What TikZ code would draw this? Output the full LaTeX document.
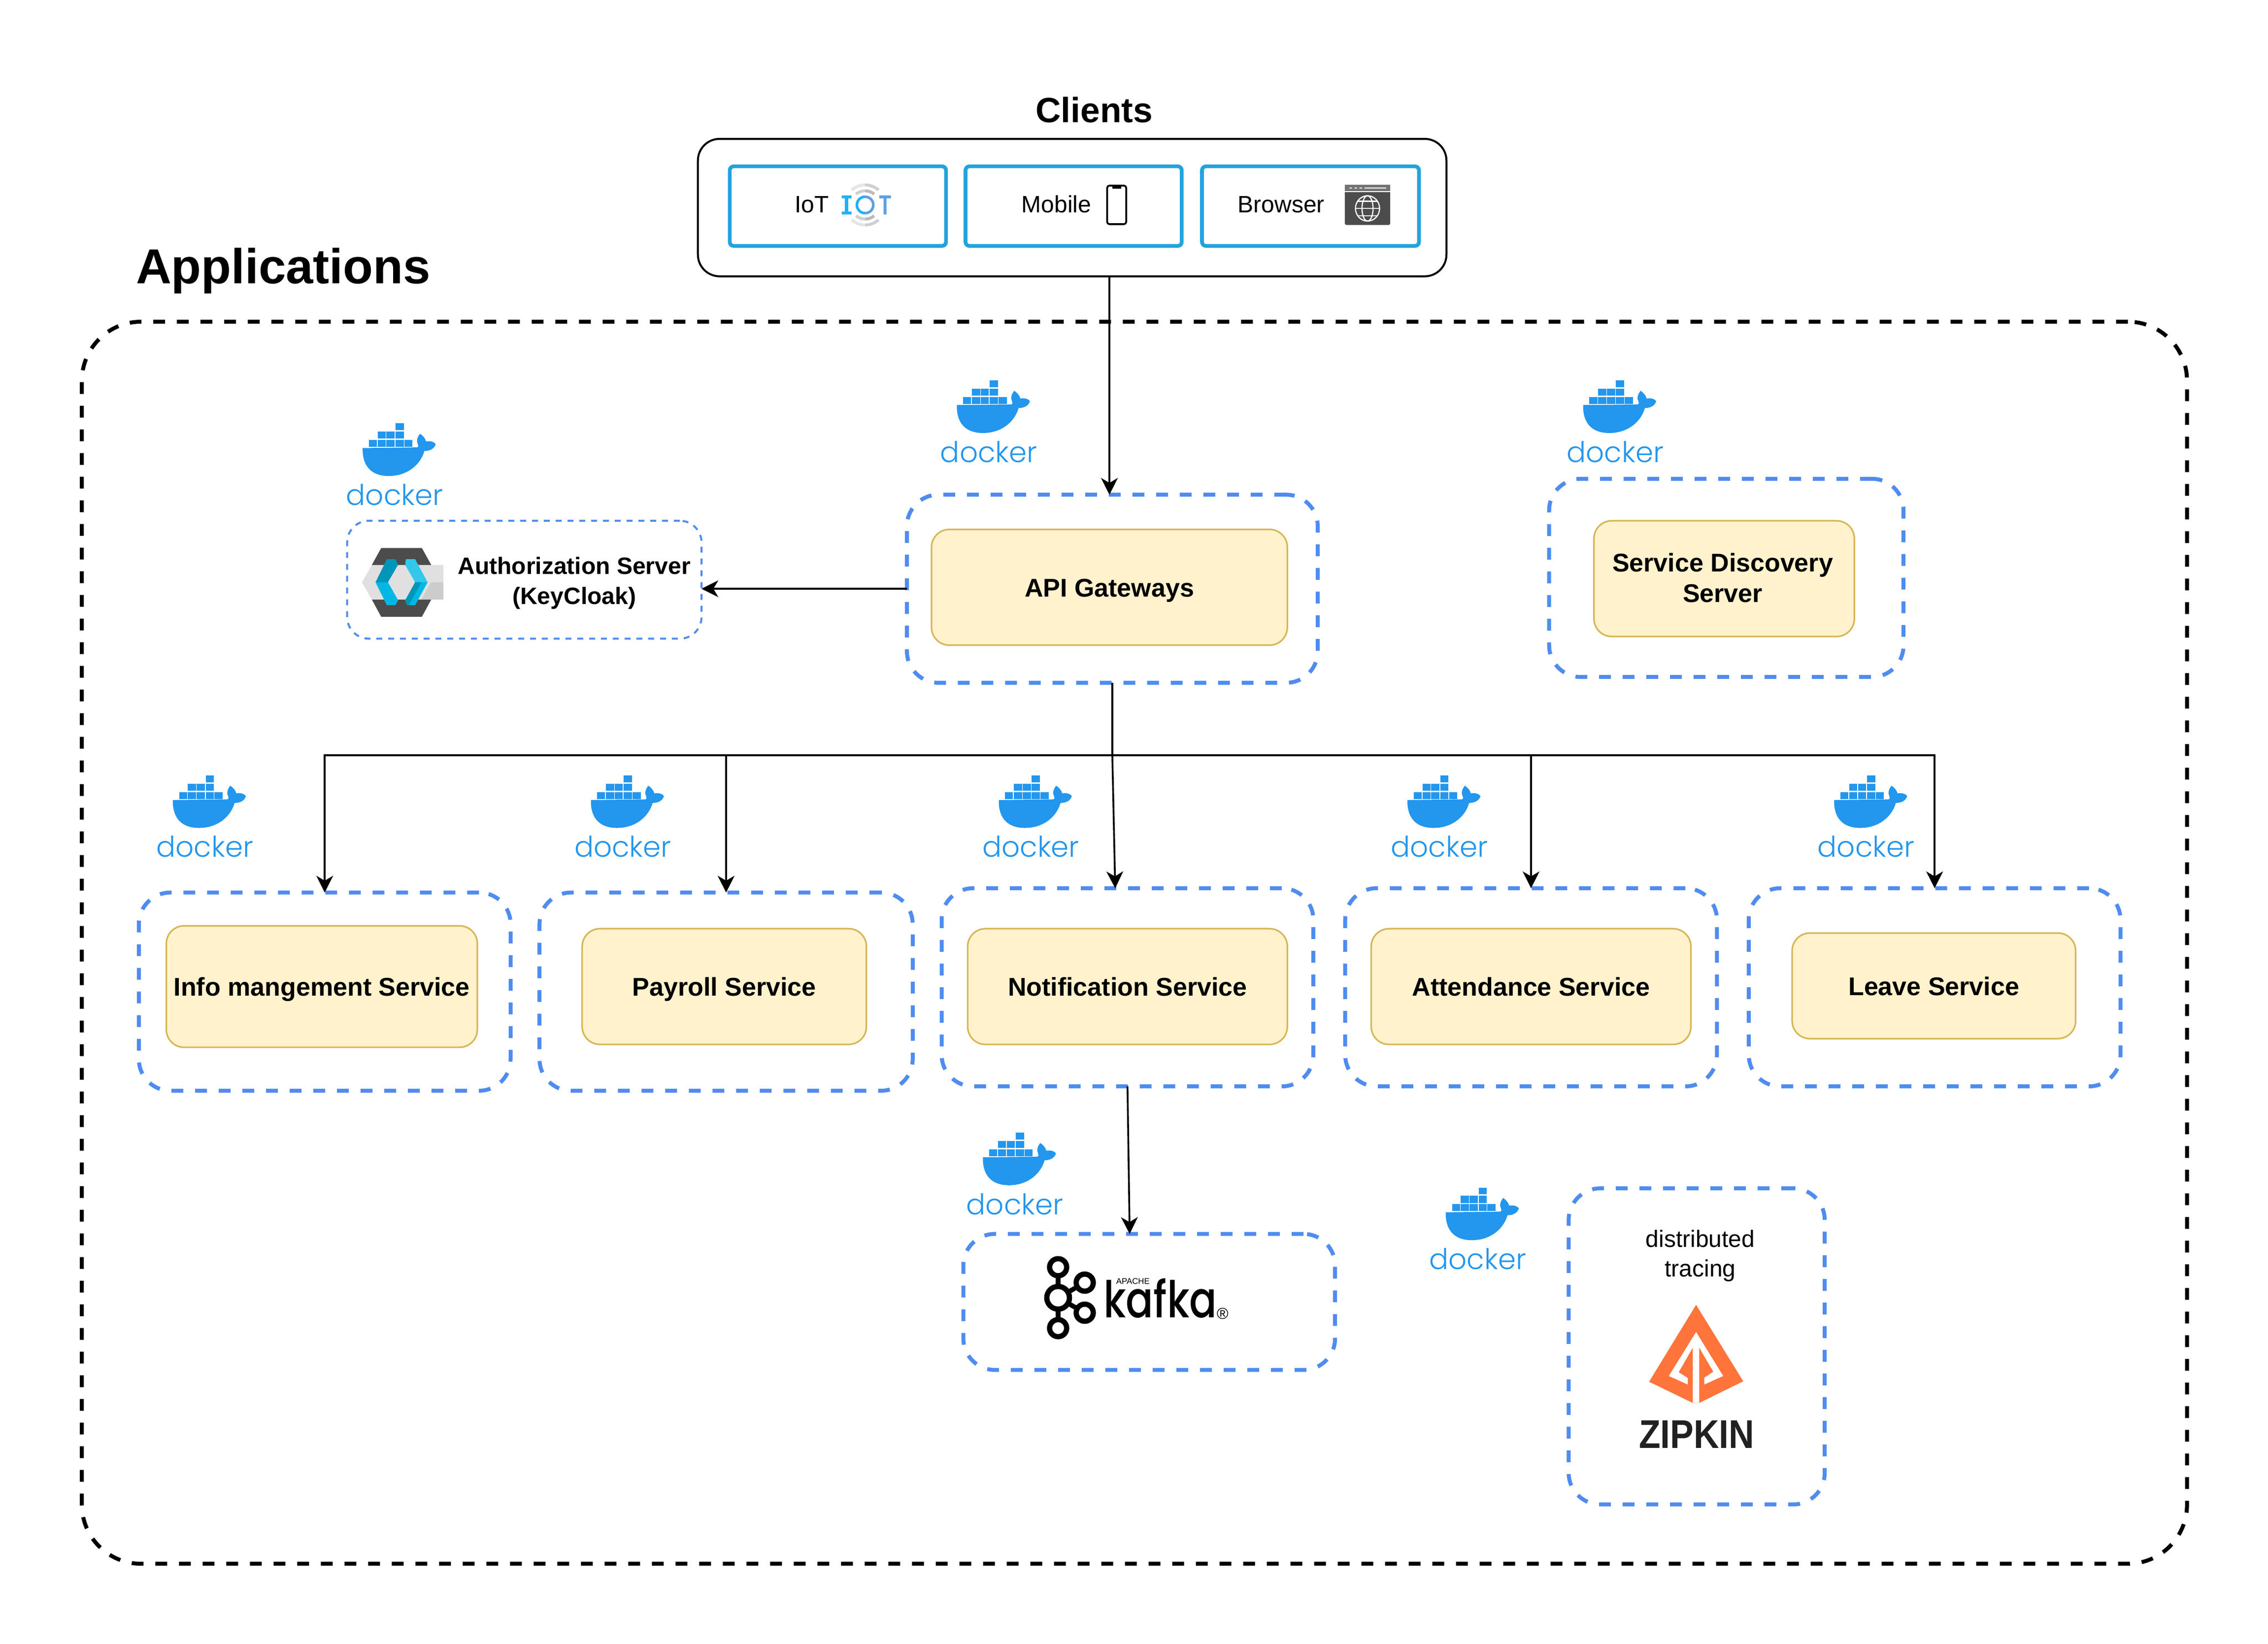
\documentclass[tikz,border=0pt]{standalone}
\usepackage{fontspec}
\setmainfont{Liberation Sans}
\newfontfamily\dockfont{Poppins Light}
\newfontfamily\kafkafont{Poppins Medium}
\usetikzlibrary{arrows.meta}
\definecolor{dockblue}{HTML}{2396ED}
\definecolor{dashblue}{HTML}{4F8CF0}
\definecolor{clientblue}{HTML}{22A3DE}
\definecolor{svcfill}{HTML}{FFF2CC}
\definecolor{svcline}{HTML}{D6B656}
\definecolor{zorange}{HTML}{FF743A}
\definecolor{iotcyan}{HTML}{1FB0FF}
\definecolor{iotblue}{HTML}{5F9EE0}
\newcommand\boxnode[7][]{\node[#2,minimum width={(#5-#3)*0.734pt},minimum height={(#6-#4)*0.734pt},#1] (#7) at ({(#3+#5)/2},{(#4+#6)/2})}
\newcommand\svct[1]{\raisebox{-4.8pt}[0pt][0pt]{#1}}
\tikzset{
  base/.style={inner sep=0pt,outer sep=0pt,align=center},
  appsbox/.style={base,draw=black,line width=2pt,dash pattern=on 6pt off 6pt,rounded corners=30pt},
  clientsbox/.style={base,draw=black,line width=1pt,rounded corners=11pt},
  clientitem/.style={base,draw=clientblue,line width=1.9pt,rounded corners=2pt},
  svcdash/.style={base,draw=dashblue,line width=2pt,dash pattern=on 6pt off 6pt,rounded corners=16pt},
  thindash/.style={base,draw=dashblue,line width=1pt,dash pattern=on 3pt off 3pt,rounded corners=11pt},
  svcfont/.style={font=\fontsize{13}{15.6}\selectfont\bfseries},
  svc/.style={base,draw=svcline,fill=svcfill,line width=.8pt,rounded corners=9pt,svcfont},
  lbl/.style={base,font=\fontsize{12}{15}\selectfont},
  arr/.style={draw=black,line width=.9pt,-{Stealth[length=8.5pt,width=8.5pt,inset=2.5pt]}},
  lin/.style={draw=black,line width=.9pt},
  dockerlogo/.pic={
    \begin{scope}[x=.14355pt,y=-.08335pt,shift={(-71,-62)}]
      \fill[dockblue] (130,212) -- (322,208) .. controls (330,205) and (326,195) .. (322,172)
        .. controls (322,150) and (328,135) .. (333,125) .. controls (345,140) and (352,155) .. (354,172)
        .. controls (368,168) and (382,172) .. (388,188) .. controls (384,215) and (368,230) .. (348,230)
        .. controls (335,310) and (290,382) .. (222,382) .. controls (160,382) and (128,320) .. (130,212) -- cycle;
      \foreach \a/\b in {152/180,183/212,214/243,246/275,277/306}{\fill[dockblue] (\a,163) rectangle (\b,205);}
      \foreach \a/\b in {183/212,214/243,246/275}{\fill[dockblue] (\a,112) rectangle (\b,155);}
      \fill[dockblue] (246,62) rectangle (275,103);
      \node[anchor=base,inner sep=0pt,text=dockblue,font=\fontsize{14.5}{16}\dockfont\selectfont] (-word) at (243,560) {docker};
    \end{scope}}
}
\begin{document}
\begin{tikzpicture}[x=.734pt,y=-.734pt]
\useasboundingbox (0,0) rectangle (1568,1136.2);

% titles
\node[base,anchor=base,font=\fontsize{17.8}{20}\selectfont\bfseries] (clientstitle) at (756.5,84.5) {Clients};
\node[base,anchor=base west,font=\fontsize{24.9}{28}\selectfont\bfseries] (appstitle) at (94,196) {Applications};

% containers
\boxnode{appsbox}{56.6}{222.4}{1512}{1081}{apps}{};
\boxnode{clientsbox}{482.5}{96}{1000}{191}{clients}{};
\boxnode{clientitem}{504.5}{115}{654}{170}{iotbox}{};
\boxnode{clientitem}{667.5}{115}{817}{170}{mobbox}{};
\boxnode{clientitem}{831}{115}{981}{170}{brobox}{};
\node[lbl,anchor=base] (iottext) at (561.3,146.8) {IoT};
\node[lbl,anchor=base] (mobtext) at (730.3,146.8) {Mobile};
\node[lbl,anchor=base] (brotext) at (885.8,146.8) {Browser};

% iot icon
\begin{scope}[shift={(565.4,119.2)},x=.08333pt,y=-.08333pt,line width=1.5pt]
  \draw[color=black!10] (288,198) ++(-132:122) arc[start angle=-132,end angle=-90,radius=122];
  \draw[color=black!19] (288,198) ++(-90:122) arc[start angle=-90,end angle=-48,radius=122];
  \draw[color=black!19] (288,198) ++(-130:86) arc[start angle=-130,end angle=-90,radius=86];
  \draw[color=black!27] (288,198) ++(-90:86) arc[start angle=-90,end angle=-50,radius=86];
  \draw[color=black!27] (288,198) ++(50:86) arc[start angle=50,end angle=90,radius=86];
  \draw[color=black!19] (288,198) ++(90:86) arc[start angle=90,end angle=130,radius=86];
  \draw[color=black!19] (288,198) ++(48:122) arc[start angle=48,end angle=90,radius=122];
  \draw[color=black!10] (288,198) ++(90:122) arc[start angle=90,end angle=132,radius=122];
  \fill[iotcyan] (145,140) rectangle (205,158) (145,238) rectangle (205,256) (165,158) rectangle (185,238);
  \draw[iotcyan,line width=1.33pt] (288,148) arc[start angle=-90,end angle=-270,radius=50];
  \draw[iotblue,line width=1.33pt] (288,148) arc[start angle=-90,end angle=90,radius=50];
  \fill[iotblue] (375,140) rectangle (445,158) (400,158) rectangle (418,256);
\end{scope}

% phone and browser icons
\begin{scope}[shift={(470,54.5)},x=.2551pt,y=-.08333pt]
  \draw[black,line width=.9pt,fill=white,rounded corners=1.2pt] (850,650) rectangle (888,885);
  \fill[black] (860,655) rectangle (878,668);
  \fill[black!70,rounded corners=.8pt] (1323,645) rectangle (1413,890);
  \fill[black!55] (1323,645) rectangle (1413,684);
  \fill[white] (1323,684) rectangle (1413,689);
  \fill[white] (1332,662) rectangle (1337,668) (1342,662) rectangle (1347,668) (1352,662) rectangle (1357,668) (1362,662) rectangle (1405,668);
  \draw[white,line width=.6pt] (1368,789) ellipse (24 and 77);
  \draw[white,line width=.6pt] (1368,789) ellipse (11 and 77);
  \draw[white,line width=.6pt] (1344,789) -- (1392,789) (1348,745) -- (1388,745) (1348,833) -- (1388,833);
\end{scope}

% gateway
\boxnode{svcdash}{627}{342}{911}{472}{gwo}{};
\boxnode{svc}{644}{366}{890}{446}{gw}{\svct{API Gateways}};
\boxnode{svcdash}{1071}{331}{1316}{468}{sdo}{};
\boxnode{svc}{1102}{360}{1282}{440}{sd}{};
\node[base,svcfont] (sdtext) at (1191,399.5) {Service Discovery\\Server};
\boxnode{thindash}{240}{360}{485}{441.5}{kc}{};

% keycloak icon
\begin{scope}[shift={(224.8,286.1)},x=.14355pt,y=-.08335pt]
  \fill[black!70] (198,817) -- (342,817) -- (375,920) -- (165,920) -- cycle;
  \fill[black!70] (165,1130) -- (375,1130) -- (342,1235) -- (198,1235) -- cycle;
  \fill[black!12] (165,920) -- (418,920) -- (418,1130) -- (165,1130) -- (130,1025) -- cycle;
  \fill[black!20] (375,1025) -- (418,1025) -- (418,1130) -- (340,1130) -- cycle;
  \fill[color={rgb,255:red,0;green,150;blue,186}] (218,885) -- (248,885) -- (258,918) -- (222,1025) -- (178,1025) -- cycle;
  \fill[color={rgb,255:red,0;green,184;blue,227}] (178,1025) -- (222,1025) -- (258,1135) -- (248,1165) -- (218,1165) -- cycle;
  \fill[color={rgb,255:red,51;green,200;blue,235}] (285,885) -- (318,885) -- (362,1025) -- (318,1025) -- (283,920) -- cycle;
  \fill[color={rgb,255:red,0;green,184;blue,227}] (318,1025) -- (362,1025) -- (318,1165) -- (290,1165) -- (283,1135) -- cycle;
  \fill[color={rgb,255:red,0;green,150;blue,186}] (318,1025) -- (340,1025) -- (296,1165) -- (290,1165) -- (283,1135) -- cycle;
\end{scope}
\node[base,font=\fontsize{12}{15.2}\selectfont\bfseries] (kctext) at (397,403) {Authorization Server\\(KeyCloak)};

% services
\boxnode{svcdash}{96}{617}{353}{754}{infoo}{};
\boxnode{svc}{115}{640}{330}{724}{info}{\svct{Info mangement Service}};
\boxnode{svcdash}{373}{617}{631}{754}{payo}{};
\boxnode{svc}{402.5}{642}{599}{722}{pay}{\svct{Payroll Service}};
\boxnode{svcdash}{651}{614}{908}{751}{noto}{};
\boxnode{svc}{669}{642}{890}{722}{not}{\svct{Notification Service}};
\boxnode{svcdash}{930}{614}{1187}{751}{atto}{};
\boxnode{svc}{948}{642}{1169}{722}{att}{\svct{Attendance Service}};
\boxnode{svcdash}{1209}{614}{1466}{751}{leao}{};
\boxnode{svc}{1239}{645}{1435}{718}{lea}{\svct{Leave Service}};
\boxnode{svcdash}{666}{853}{923}{947}{kafo}{};
\boxnode{svcdash}{1084.5}{821.5}{1261.5}{1040}{zipo}{};

% docker logos
\pic (d1) at (239.2,292.7) {dockerlogo};
\pic (d2) at (650,263) {dockerlogo};
\pic (d3) at (1083,263) {dockerlogo};
\pic (d4) at (108,536) {dockerlogo};
\pic (d5) at (397,536) {dockerlogo};
\pic (d6) at (679,536) {dockerlogo};
\pic (d7) at (961.5,536) {dockerlogo};
\pic (d8) at (1256.5,536) {dockerlogo};
\pic (d9) at (668,783) {dockerlogo};
\pic (d10) at (988,821) {dockerlogo};

% kafka logo
\begin{scope}[shift={(715.3,858.3)},x=.08333pt,y=-.08333pt,black]
  \draw[line width=2.4pt] (143,156) -- (143,527) (143,342) -- (305,250) (143,342) -- (305,433);
  \draw[line width=2.67pt,fill=white] (143,156) circle (52);
  \draw[line width=2.67pt,fill=white] (143,342) circle (69);
  \draw[line width=2.67pt,fill=white] (143,527) circle (52);
  \draw[line width=2.67pt,fill=white] (305,250) circle (52);
  \draw[line width=2.67pt,fill=white] (305,433) circle (52);
  \node[base,anchor=base west,font=\fontsize{20.6}{24}\kafkafont\selectfont,yscale=1.25,transform shape] (kafkatext) at (420,462) {kafka};
  \node[base,anchor=base west,font=\fontsize{4.2}{5}\selectfont] (apachetext) at (497,260) {APACHE};
  \node[base,font=\fontsize{8}{9}\selectfont] (regtext) at (1145,440) {®};
\end{scope}

% zipkin
\node[lbl] (tracetext) at (1175.5,868) {distributed\\tracing};
\begin{scope}[shift={(1124,892.4)},x=.08333pt,y=-.08333pt]
  \fill[zorange] (428,85) -- (715,550) -- (447,682) -- (408,682) -- (142,553) -- cycle;
  \fill[white] (428,250) -- (262,518) -- (377,570) -- (377,530) -- (322,495) -- (408,345) -- (408,682) -- (447,682) -- (447,345) -- (533,492) -- (478,528) -- (478,570) -- (593,518) -- cycle;
\end{scope}
\node[base,anchor=base,font=\fontsize{20.3}{24}\selectfont\bfseries,text=black!87,xscale=.88,transform shape] (ziptext) at (1173,1001) {ZIPKIN};

% connectors
\coordinate (bus) at (769,522);
\coordinate (nottop) at (771,614);
\coordinate (kaftop) at (781,853);
\draw[arr] (clients.south -| gw.north) -- (gwo.north -| gw.north);
\draw[arr] (gwo.west) -- (gwo.west -| kc.east);
\draw[lin] (gwo.south) -- (bus);
\draw[arr] (bus) -| (infoo.north);
\draw[arr] (bus) -| (payo.north);
\draw[arr] (bus) -- (nottop);
\draw[arr] (bus) -| (atto.north);
\draw[arr] (bus) -| (leao.north);
\draw[arr] (noto.south) -- (kaftop);
\end{tikzpicture}
\end{document}
